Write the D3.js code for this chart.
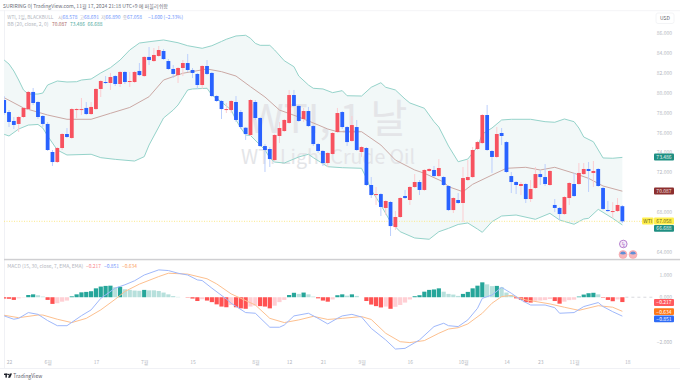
<!DOCTYPE html>
<html>
<head>
<meta charset="utf-8">
<script src="https://cdn.jsdelivr.net/npm/d3@7"></script>
<style>
html,body{margin:0;padding:0;background:#fff;overflow:hidden}
text{font-family:"Noto Sans CJK KR","Noto Sans",sans-serif}
</style>
</head>
<body>
<div id="chart"></div>
<script>
// candles, first one is the day before May 22
var opens=[79.26,78.05,77.15,76.85,77.55,78.35,80.07,79.06,77.65,76.85,
74.03,73.02,74.43,75.84,75.44,78.25,78.25,78.46,77.85,78.35,
80.37,81.07,80.97,81.67,80.87,82.08,81.07,81.07,82.18,81.67,
83.59,83.18,83.69,84.19,83.18,82.38,81.77,82.48,82.98,82.28,
81.88,80.77,82.68,81.98,79.66,79.16,78.25,78.25,79.06,78.05,
76.47,75.74,79.06,77.45,74.63,74.33,73.22,75.64,76.14,76.95,
79.76,78.66,77.35,78.15,76.64,74.83,74.13,72.92,73.83,76.04,
78.05,76.54,75.14,76.54,74.03,74.43,70.71,69.70,69.80,68.40,
69.00,66.48,67.49,69.60,69.20,70.51,71.01,70.21,72.12,72.22,
71.61,71.51,70.61,68.19,69.20,68.90,71.21,71.51,74.33,74.93,
77.75,74.13,73.53,75.94,75.03,71.61,71.01,70.61,70.81,69.30,
70.41,71.81,71.51,70.71,68.70,68.40,67.79,69.40,70.81,70.81,
71.81,72.32,71.92,72.32,70.41,68.19,67.99,68.09,68.578];
var closes=[77.95,77.05,76.75,77.55,78.46,80.07,78.96,77.55,76.85,74.23,
73.02,74.43,75.84,75.54,78.35,78.35,78.35,77.85,78.56,80.37,
81.17,80.97,81.57,80.87,82.08,81.07,81.17,82.08,81.77,83.59,
83.28,83.79,84.29,83.38,82.38,81.88,82.48,82.98,82.28,81.98,
80.77,82.68,81.88,79.66,79.16,78.35,78.35,79.16,77.25,76.54,
75.84,79.26,77.45,74.63,74.23,73.32,75.74,76.44,77.25,79.76,
78.66,77.15,78.15,76.64,74.83,74.13,72.92,73.93,75.94,77.95,
76.54,75.03,76.74,74.23,74.53,70.71,69.70,69.80,68.50,69.10,
66.58,67.49,69.40,69.40,70.51,71.01,70.21,72.22,72.32,71.61,
72.42,70.71,68.19,69.40,68.90,71.41,71.51,74.23,75.03,77.75,
74.23,73.53,75.84,75.64,72.02,71.01,70.71,70.81,69.30,70.31,
71.81,71.51,70.81,72.12,68.40,67.79,69.50,70.91,69.60,71.92,
72.32,72.12,72.12,70.61,68.30,68.09,68.09,68.70,67.058];
var highs=[79.66,78.25,77.55,77.65,78.56,80.17,80.47,79.16,77.75,77.05,
74.23,74.53,75.94,76.44,78.46,78.46,79.46,79.06,79.06,80.47,
81.27,81.67,81.98,81.77,82.18,82.18,82.08,82.18,82.98,83.69,
84.59,84.49,84.69,84.39,83.38,82.78,82.58,83.28,83.89,82.48,
81.98,82.78,83.28,82.08,79.76,79.26,78.96,79.26,79.66,78.25,
76.54,79.36,79.26,77.55,74.83,74.53,75.84,77.05,77.35,80.27,
80.27,78.76,78.46,78.56,76.74,74.93,74.23,74.03,76.04,78.46,
78.15,76.64,77.65,77.25,74.63,74.53,71.51,70.51,69.90,69.20,
69.10,68.09,69.50,70.21,70.61,71.81,71.21,72.32,72.42,72.62,
73.32,71.61,70.71,69.50,69.90,72.52,73.22,74.53,75.14,77.85,
78.76,74.23,76.54,76.44,75.14,72.02,71.11,71.01,70.91,71.21,
72.52,72.22,72.82,72.22,69.30,68.50,69.60,71.01,71.92,72.92,
72.92,73.02,73.12,72.42,70.51,69.10,68.99,69.40,68.691];
var lows=[77.75,76.54,76.34,76.04,77.45,78.25,78.76,77.35,76.54,74.13,
72.62,72.92,74.23,75.44,75.34,77.45,77.75,77.75,77.75,78.25,
79.56,80.87,80.27,80.67,80.57,80.87,80.57,80.97,81.67,81.57,
82.78,83.08,83.59,83.28,82.28,81.47,80.97,81.67,82.08,81.47,
80.37,80.37,81.77,79.56,79.06,77.35,77.95,77.95,77.05,76.34,
75.24,75.64,77.25,74.53,72.02,72.52,73.12,74.93,76.04,76.85,
78.56,77.05,77.05,76.54,74.63,73.93,72.62,72.52,73.73,75.94,
76.34,74.63,75.03,74.13,73.53,70.61,69.40,68.70,67.59,67.69,
65.58,66.18,67.39,69.30,68.70,70.41,69.70,70.11,72.02,71.51,
71.51,70.61,68.09,67.89,68.80,66.99,71.11,71.41,74.23,74.83,
74.13,71.92,73.42,74.73,71.92,69.90,69.80,69.70,68.90,69.00,
70.31,70.71,70.61,70.61,67.99,67.19,67.69,68.70,69.50,70.71,
71.71,70.01,70.51,70.51,68.19,67.99,67.39,67.99,66.89];

// bollinger bands, [day, price]
var bbUpper=[[-1,83.28],[0,82.88],[1,82.18],[2,81.27],[3,80.27],[4,79.86],[6,79.86],[7,79.96],[8,80.77],[10,81.17],[12,81.07],[14,81.10],[15,81.27],[17,81.37],[19,81.98],[21,82.51],[23,83.28],[25,84.29],[27,84.99],[29,85.12],[32,85.30],[35,85.02],[37,84.72],[40,84.46],[42,84.72],[44,85.15],[45,85.37],[47,85.70],[49,85.77],[50,85.47],[51,84.96],[52,84.76],[54,84.76],[55,84.29],[57,83.21],[59,82.61],[60,81.67],[62,80.77],[63,80.44],[65,80.37],[67,80.0],[69,80.2],[70,79.69],[73,79.66],[75,80.54],[77,81.0],[78,80.54],[80,80.27],[82,79.36],[83,78.96],[86,78.43],[88,77.08],[89,76.54],[91,74.63],[93,73.05],[95,73.32],[97,74.56],[98,75.84],[100,76.44],[102,77.25],[104,77.32],[108,77.32],[111,77.08],[113,77.02],[115,77.35],[117,77.08],[118,76.44],[119,75.54],[121,75.06],[123,73.43],[125,73.40],[127,73.486]];
var bbMiddle=[[-1,79.49],[3,78.46],[8,77.75],[12,77.32],[17,77.32],[21,77.92],[25,78.51],[29,79.59],[32,81.27],[36,81.95],[41,82.38],[44,82.11],[47,81.67],[50,80.60],[53,79.56],[56,78.25],[60,77.55],[64,76.75],[66,76.34],[68,76.07],[73,76.07],[77,74.73],[80,73.22],[84,72.22],[86,71.89],[90,71.01],[91,70.54],[94,70.03],[96,70.78],[100,71.71],[103,72.39],[107,72.49],[110,72.22],[113,72.49],[117,71.89],[120,71.38],[123,70.61],[127,70.087]];
var bbLower=[[-1,75.81],[0,75.64],[2,76.34],[4,76.74],[6,76.8],[7,76.44],[8,75.64],[10,74.23],[12,73.73],[17,73.80],[19,73.46],[22,73.29],[26,73.12],[28,73.56],[29,74.73],[31,76.54],[32,77.45],[34,78.25],[35,78.76],[37,80.27],[38,80.37],[41,80.44],[42,79.76],[44,79.06],[46,78.25],[47,77.25],[48,76.44],[49,75.74],[50,75.69],[53,74.23],[54,73.43],[55,73.02],[57,72.92],[60,73.53],[62,73.80],[63,73.46],[66,72.55],[69,72.45],[73,72.39],[74,71.41],[75,70.21],[77,68.70],[79,66.99],[81,66.01],[84,65.38],[87,65.25],[89,66.01],[91,66.35],[93,66.74],[95,66.89],[97,66.28],[98,65.95],[100,67.02],[102,67.59],[105,67.69],[109,67.26],[112,67.86],[114,67.19],[117,66.76],[119,67.29],[120,67.36],[122,68.26],[125,67.36],[127,66.688]];

// macd histogram, same days as the candles
var histogram=[-.06,-.07,-.12,-.05,-.015,.10,.13,.09,.03,-.12,
-.30,-.27,-.20,-.15,.04,.13,.22,.24,.27,.40,
.48,.51,.52,.45,.47,.36,.33,.30,.29,.33,
.31,.31,.28,.21,.13,.05,.015,0,-.015,-.06,
-.17,-.09,-.15,-.22,-.32,-.42,-.45,-.35,-.45,-.50,
-.52,-.42,-.38,-.40,-.42,-.50,-.38,-.22,-.12,.10,
.20,.15,.21,.13,.03,-.05,-.15,-.20,-.10,.09,
.13,.07,.13,.06,0,-.17,-.33,-.40,-.46,-.42,
-.52,-.43,-.35,-.24,-.10,.045,.09,.25,.33,.35,
.40,.25,.15,.12,.06,.15,.24,.40,.52,.67,
.58,.50,.51,.45,.21,.10,-.05,-.12,-.22,-.24,
-.16,-.15,-.13,-.08,-.17,-.29,-.20,-.13,-.11,.03,
.12,.18,.20,.13,-.02,-.12,-.18,-.10,-.217];
var macdLine=[[-1,-.84],[1,-.99],[2,-.95],[4,-.69],[6,-.77],[8,-1.05],[10,-1.28],[12,-1.28],[15,-.83],[17,-.57],[19,-.05],[22,.41],[24,.56],[26,.74],[28,1.0],[31,1.23],[33,1.2],[35,1.08],[37,1.0],[39,.78],[40,.75],[42,.41],[45,-.08],[46,-.27],[49,-.69],[51,-.72],[54,-1.35],[56,-1.35],[57,-1.25],[59,-.84],[62,-.72],[64,-.95],[66,-1.2],[68,-.95],[69,-.84],[71,-.77],[73,-.89],[75,-1.4],[78,-1.92],[80,-2.33],[82,-2.30],[85,-1.92],[88,-1.32],[90,-1.17],[91,-1.28],[93,-1.32],[95,-1.02],[97,-.5],[98,-.05],[100,.1],[102,.44],[104,.18],[106,-.12],[108,-.35],[111,-.35],[113,-.47],[114,-.72],[117,-.69],[119,-.42],[122,-.24],[123,-.42],[125,-.65],[127,-.851]];
var signalLine=[[-1,-.81],[2,-.92],[6,-.80],[7,-.80],[10,-.99],[13,-1.14],[16,-.95],[19,-.57],[22,-.09],[24,.26],[27,.59],[31,.93],[33,1.08],[37,1.04],[41,.83],[43,.60],[46,.15],[51,-.35],[54,-.95],[57,-1.14],[60,-1.02],[63,-.86],[66,-1.0],[69,-.95],[73,-.87],[75,-1.0],[78,-1.62],[81,-2.0],[83,-2.04],[86,-1.95],[89,-1.62],[91,-1.43],[93,-1.37],[95,-1.2],[98,-.72],[100,-.27],[102,.03],[104,.08],[107,-.12],[112,-.3],[115,-.45],[118,-.59],[122,-.38],[125,-.45],[127,-.634]];

// axis ticks, the ones hidden behind price tags are left out
var timeDays=[0,8,18,28,38,51,58,65,73,83,94,103,110,117,128];
var timeLabels=["22","6월","17","7월","15","8월","12","21","9월","16","10월","14","23","11월","18"];
var priceTicks=[86,84,82,80,78,76,74,72,68,64];
var macdTicks=[1,0,-2];

var w=680,h=383;
var paneLeft=4,paneRight=654,dividerY=259.5,bottomY=368;
var upColor="#f7525f",downColor="#2962ff",upWick="#fbcdd1",downWick="#bccffc";
var axisColor="#b4b7c0";
var smallFont=5;

var svg=d3.select("#chart").append("svg").attr("width",w).attr("height",h).style("display","block");

var xScale=d3.scaleLinear().domain([0,128]).range([9,627.2]);
var yScale=d3.scaleLinear().domain([64,86]).range([251.7,33]);
var mScale=d3.scaleLinear().domain([-2,1]).range([341.7,275]);

var line=d3.line().x(function(d){return xScale(d[0]);}).y(function(d){return yScale(d[1]);});
var mLine=d3.line().x(function(d){return xScale(d[0]);}).y(function(d){return mScale(d[1]);});

// frame
svg.append("rect").attr("x",0).attr("y",10).attr("width",w).attr("height",1.2).attr("fill","#f6f6f8");
svg.append("rect").attr("x",paneLeft).attr("y",10).attr("width",1).attr("height",bottomY-10).attr("fill","#f0f1f5");
svg.append("rect").attr("x",0).attr("y",bottomY).attr("width",w).attr("height",1).attr("fill","#f0f1f5");
svg.append("rect").attr("x",paneLeft).attr("y",dividerY-0.7).attr("width",w-paneLeft).attr("height",1.5).attr("fill","#cfcfd2");

svg.append("defs").append("clipPath").attr("id","pane").append("rect")
    .attr("x",paneLeft).attr("y",11).attr("width",paneRight-paneLeft).attr("height",bottomY-11);
var plot=svg.append("g").attr("clip-path","url(#pane)");

// band fill
var ring=bbUpper.concat(bbLower.slice().reverse());
plot.append("path").attr("d",line(ring)+"Z").attr("fill","#f2f8f8").attr("stroke","none");

// watermark
plot.append("text").attr("x",328).attr("y",133).attr("text-anchor","middle")
    .attr("font-size",40).attr("fill","#e4e5e8").text("WTI, 1 날");
plot.append("text").attr("x",328).attr("y",164).attr("text-anchor","middle")
    .attr("font-size",19.5).attr("fill","#e4e5e8").text("WTI Light Crude Oil");

// band lines
plot.append("path").attr("d",line(bbUpper)).attr("fill","none").attr("stroke","#95d3ca").attr("stroke-width",1);
plot.append("path").attr("d",line(bbLower)).attr("fill","none").attr("stroke","#95d3ca").attr("stroke-width",1);
plot.append("path").attr("d",line(bbMiddle)).attr("fill","none").attr("stroke","#cba9a5").attr("stroke-width",1);

// last price line
plot.append("line").attr("x1",paneLeft).attr("x2",paneRight)
    .attr("y1",yScale(67.058)).attr("y2",yScale(67.058))
    .attr("stroke","#fbe98a").attr("stroke-width",1).attr("stroke-dasharray","1,1.5");

// candles
var candles=opens.map(function(o,i){
    return {day:i-1,o:o,h:highs[i],l:lows[i],c:closes[i],up:closes[i]>=o};
});
plot.selectAll(".wick").data(candles).enter().append("line")
    .attr("class","wick")
    .attr("x1",function(d){return xScale(d.day);})
    .attr("x2",function(d){return xScale(d.day);})
    .attr("y1",function(d){return yScale(d.h);})
    .attr("y2",function(d){return yScale(d.l);})
    .attr("stroke",function(d){return d.up?upWick:downWick;})
    .attr("stroke-width",1);
plot.selectAll(".body").data(candles).enter().append("rect")
    .attr("class","body")
    .attr("x",function(d){return xScale(d.day)-1.9;})
    .attr("width",3.8)
    .attr("y",function(d){return yScale(Math.max(d.o,d.c));})
    .attr("height",function(d){return Math.max(1,Math.abs(yScale(d.o)-yScale(d.c)));})
    .attr("fill",function(d){return d.up?upColor:downColor;});

// macd
plot.append("line").attr("x1",xScale(127)+3).attr("x2",paneRight)
    .attr("y1",mScale(0)).attr("y2",mScale(0))
    .attr("stroke","#d8d9de").attr("stroke-dasharray","3,3");
plot.selectAll(".hist").data(histogram).enter().append("rect")
    .attr("class","hist")
    .attr("x",function(d,i){return xScale(i-1)-2.1;})
    .attr("width",4.2)
    .attr("y",function(d){return Math.min(mScale(d),mScale(0));})
    .attr("height",function(d){return Math.abs(mScale(d)-mScale(0));})
    .attr("fill",function(d,i){
        var prev=i>0?histogram[i-1]:0;
        if(d>=0) return d>prev?"#26a69a":"#b7e0dc";
        return d<prev?"#ff5252":"#ffcfd4";
    });
plot.append("path").attr("d",mLine(signalLine)).attr("fill","none").attr("stroke","#fdc08f").attr("stroke-width",1);
plot.append("path").attr("d",mLine(macdLine)).attr("fill","none").attr("stroke","#9fb8fb").attr("stroke-width",1);

// axes
function cleanAxis(g){
    g.select(".domain").remove();
    g.selectAll(".tick line").remove();
    g.selectAll(".tick text").attr("fill",axisColor).attr("font-size",smallFont)
        .style("font-family",'"Noto Sans CJK KR","Noto Sans",sans-serif');
}
var priceAxis=d3.axisRight(yScale).tickValues(priceTicks).tickFormat(d3.format(".3f")).tickPadding(0).tickSize(0);
svg.append("g").attr("transform","translate(672,0)").call(priceAxis)
    .call(cleanAxis).selectAll("text").attr("text-anchor","end");
var macdAxis=d3.axisRight(mScale).tickValues(macdTicks).tickFormat(d3.format(".3f")).tickPadding(0).tickSize(0);
svg.append("g").attr("transform","translate(672,0)").call(macdAxis)
    .call(cleanAxis).selectAll("text").attr("text-anchor","end");
var timeAxis=d3.axisBottom(xScale).tickValues(timeDays)
    .tickFormat(function(d){return timeLabels[timeDays.indexOf(d)];}).tickPadding(0).tickSize(0);
svg.append("g").attr("transform","translate(0,360.3)").call(timeAxis).call(cleanAxis);

// price tags on the right, spread apart as in the picture
function tag(y,txt,bg,fg){
    svg.append("rect").attr("x",654).attr("y",y-3.4).attr("width",20).attr("height",6.8).attr("rx",1).attr("fill",bg);
    svg.append("text").attr("x",664).attr("y",y+1.8).attr("text-anchor","middle").attr("font-size",smallFont).attr("fill",fg).text(txt);
}
tag(157,"73.486","#1f8f82","#e6f5f3");
tag(191,"70.087","#8c2f2f","#f5e3e3");
svg.append("rect").attr("x",642).attr("y",221-3.4).attr("width",11.5).attr("height",6.8).attr("rx",1).attr("fill","#fff04d");
svg.append("text").attr("x",647.7).attr("y",222.8).attr("text-anchor","middle").attr("font-size",smallFont).attr("fill","#6b6520").text("WTI");
tag(221,"67.058","#fff04d","#6b6520");
tag(228.3,"66.688","#1f8f82","#e6f5f3");
tag(302.5,"−0.217","#ff5a5f","#fff");
tag(311.7,"−0.634","#ff7a1a","#fff");
tag(318.8,"−0.851","#2e6bf6","#fff");

// USD box
svg.append("rect").attr("x",656).attr("y",13).attr("width",18).attr("height",10.5).attr("rx",2)
    .attr("fill","#fff").attr("stroke","#f0f1f4").attr("stroke-width",.8);
svg.append("text").attr("x",665).attr("y",20).attr("text-anchor","middle").attr("font-size",smallFont).attr("fill","#5d606b").text("USD");

// event icons
svg.append("circle").attr("cx",623.3).attr("cy",244).attr("r",3.8).attr("fill","#f6ecf9").attr("stroke","#a463c4").attr("stroke-width",.8);
svg.append("text").attr("x",623.3).attr("y",246).attr("text-anchor","middle").attr("font-size",5.5).attr("fill","#a463c4").text("ϟ");
[623,633].forEach(function(cx){
    svg.append("circle").attr("cx",cx).attr("cy",254.5).attr("r",4).attr("fill","#f7b5ba").attr("stroke","#f7a3a9").attr("stroke-width",.6);
    svg.append("path").attr("d",d3.arc()({innerRadius:0,outerRadius:3,startAngle:-1.4,endAngle:1.4}))
        .attr("transform","translate("+cx+",254.5)").attr("fill","#5f8fd8");
});

// header and legends, p[3] pins the width of the longer strings
function legend(y,parts){
    parts.forEach(function(p){
        var t=svg.append("text").attr("x",p[0]).attr("y",y).attr("font-size",5.1).attr("fill",p[2]).text(p[1]);
        if(p[3]) t.attr("textLength",p[3]).attr("lengthAdjust","spacingAndGlyphs");
    });
}
var legendBlue="#6d93fb";
legend(8,[[3,"SURIRING 이 TradingView.com, 11월 17, 2024 21:18 UTC+9 에 퍼블리쉬함","#6a6d78",165]]);
legend(18.5,[[7.3,"WTI, 1일, BLACKBULL",axisColor,46],[58,"시",axisColor],[62.5,"68.578",legendBlue,15],[79.5,"고",axisColor],[84,"68.691",legendBlue,15],[101,"저",axisColor],[105.5,"66.890",legendBlue,15],[122.5,"종",axisColor],[127,"67.058",legendBlue,15],[148,"−1.600 (−2.33%)",legendBlue,35]]);
legend(26,[[7.3,"BB (20, close, 2, 0)",axisColor,41],[52,"70.087","#a8645e",15],[70,"73.486","#4aa79b",15],[87.5,"66.688","#4aa79b",15]]);
legend(268,[[7.3,"MACD (15, 30, close, 7, EMA, EMA)",axisColor,76],[86,"−0.217","#f9868b",15],[104,"−0.851",legendBlue,15],[122,"−0.634","#fba15f",15]]);

// logo
var logo=svg.append("g").attr("fill","#1f222b");
logo.append("rect").attr("x",4).attr("y",373.6).attr("width",3.6).attr("height",1.4);
logo.append("rect").attr("x",5.4).attr("y",373.6).attr("width",1.5).attr("height",4);
logo.append("circle").attr("cx",8.4).attr("cy",374.5).attr("r",.8);
logo.append("path").attr("d","M9.8,373.6L12,373.6L10.2,377.7L8,377.7Z");
svg.append("text").attr("x",13.3).attr("y",378).attr("font-size",5.5).attr("fill","#5d606b").attr("textLength",29).attr("lengthAdjust","spacingAndGlyphs").text("TradingView");
</script>
</body>
</html>
